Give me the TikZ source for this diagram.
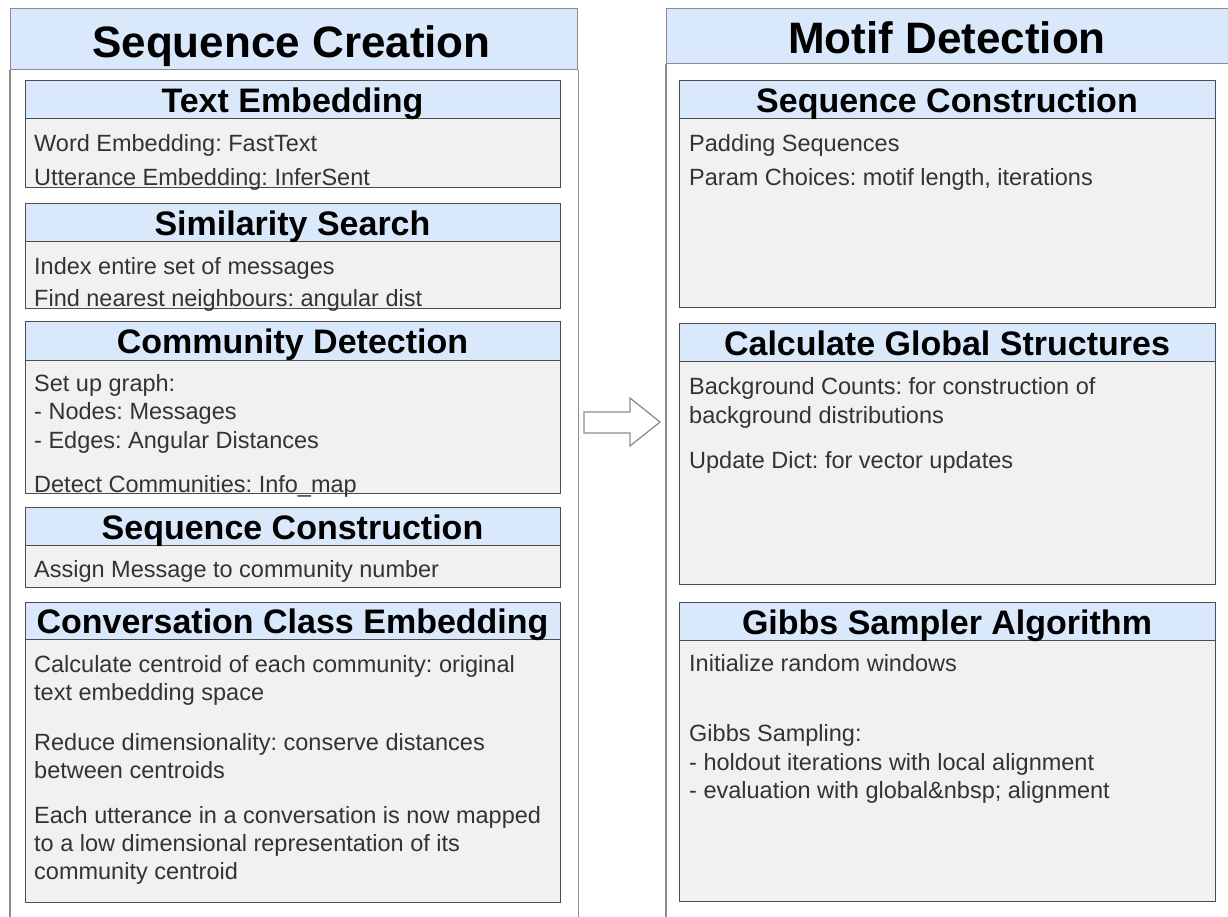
\documentclass[tikz,border=0pt]{standalone}
\usepackage{fontspec}
\setmainfont{Liberation Sans}
\usepackage{xcolor}
\definecolor{headblue}{HTML}{DAE8FC}
\definecolor{bodygrey}{HTML}{F1F1F1}
\definecolor{framegrey}{HTML}{4D4D4D}
\definecolor{panelgrey}{HTML}{8C8C8C}
\definecolor{textgrey}{HTML}{333333}
\frenchspacing

\begin{document}
\begin{tikzpicture}[x=1pt,y=-1pt,
    panelhead/.style={draw=panelgrey, line width=1.2pt, fill=headblue, anchor=north west, inner sep=0pt},
    panelline/.style={draw=panelgrey, line width=1.2pt},
    boxhead/.style={draw=framegrey, line width=1.4pt, fill=headblue, anchor=north west, inner sep=0pt, minimum height=38pt},
    boxbody/.style={draw=framegrey, line width=1.4pt, fill=bodygrey, anchor=north west, inner sep=0pt},
    bigtitle/.style={anchor=base, inner sep=0pt, font=\bfseries\fontsize{44}{50}\selectfont},
    boxtitle/.style={anchor=base, inner sep=0pt, font=\bfseries\fontsize{34}{40}\selectfont},
    txt/.style={anchor=base west, inner sep=0pt, text=textgrey, font=\fontsize{23.5}{28}\selectfont}]
  \useasboundingbox (0,0) rectangle (1228,916);

  % left panel
  \node[panelhead, minimum width=567pt, minimum height=61pt] (creation) at (10,8) {};
  \draw[panelline] (creation.south west) -- ++(0,860);
  \draw[panelline] (creation.south east) -- ++(0,860);
  \node[bigtitle] (creationtitle) at (291.5,57) {Sequence Creation};

  % right panel
  \node[panelhead, minimum width=575pt, minimum height=55pt] (motif) at (666,8) {};
  \draw[panelline] (motif.south west) -- ++(0,860);
  \node[bigtitle] (motiftitle) at (947,53) {Motif Detection};

  % step from one panel to the other
  \draw[panelline, fill=white] (584,412) -- (630,412) -- (630,398) -- (660,422)
    -- (630,446) -- (630,433) -- (584,433) -- cycle;

  % text embedding
  \node[boxbody, minimum width=535pt, minimum height=69pt] (tebody) at (25,118) {};
  \node[boxhead, minimum width=535pt] (tehead) at (25,80) {};
  \node[boxtitle] (tetitle) at (292.5,112) {Text Embedding};
  \node[txt] (te1) at (34,151) {Word Embedding: FastText};
  \node[txt] (te2) at (34,185) {Utterance Embedding: InferSent};

  % similarity search
  \node[boxbody, minimum width=535pt, minimum height=67pt] (ssbody) at (25,241) {};
  \node[boxhead, minimum width=535pt] (sshead) at (25,203) {};
  \node[boxtitle] (sstitle) at (292.5,235) {Similarity Search};
  \node[txt] (ss1) at (34,274) {Index entire set of messages};
  \node[txt] (ss2) at (34,306) {Find nearest neighbours: angular dist};

  % community detection
  \node[boxbody, minimum width=535pt, minimum height=133pt] (cdbody) at (25,360) {};
  \node[boxhead, minimum width=535pt, minimum height=39pt] (cdhead) at (25,321) {};
  \node[boxtitle] (cdtitle) at (292.5,353) {Community Detection};
  \node[txt] (cd1) at (34,391) {Set up graph:};
  \node[txt] (cd2) at (34,419) {- Nodes: Messages};
  \node[txt] (cd3) at (34,448) {- Edges: Angular Distances};
  \node[txt] (cd4) at (34,492) {Detect Communities: Info\_map};

  % sequence construction (left)
  \node[boxbody, minimum width=535pt, minimum height=42pt] (scbody) at (25,545) {};
  \node[boxhead, minimum width=535pt] (schead) at (25,507) {};
  \node[boxtitle] (sctitle) at (292.5,539) {Sequence Construction};
  \node[txt] (sc1) at (34,577) {Assign Message to community number};

  % conversation class embedding
  \node[boxbody, minimum width=535pt, minimum height=263pt] (ccbody) at (25,639) {};
  \node[boxhead, minimum width=535pt, minimum height=37pt] (cchead) at (25,602) {};
  \node[boxtitle] (cctitle) at (292.5,633) {Conversation Class Embedding};
  \node[txt] (cc1) at (34,672) {Calculate centroid of each community: original};
  \node[txt] (cc2) at (34,700) {text embedding space};
  \node[txt] (cc3) at (34,750) {Reduce dimensionality: conserve distances};
  \node[txt] (cc4) at (34,778) {between centroids};
  \node[txt] (cc5) at (34,823) {Each utterance in a conversation is now mapped};
  \node[txt] (cc6) at (34,851) {to a low dimensional representation of its};
  \node[txt] (cc7) at (34,879) {community centroid};

  % sequence construction (right)
  \node[boxbody, minimum width=536pt, minimum height=189pt] (mscbody) at (679,118) {};
  \node[boxhead, minimum width=536pt] (mschead) at (679,80) {};
  \node[boxtitle] (msctitle) at (947,112) {Sequence Construction};
  \node[txt] (msc1) at (689,151) {Padding Sequences};
  \node[txt] (msc2) at (689,185) {Param Choices: motif length, iterations};

  % global structures
  \node[boxbody, minimum width=536pt, minimum height=223pt] (gsbody) at (679,361) {};
  \node[boxhead, minimum width=536pt] (gshead) at (679,323) {};
  \node[boxtitle] (gstitle) at (947,355) {Calculate Global Structures};
  \node[txt] (gs1) at (689,394) {Background Counts: for construction of};
  \node[txt] (gs2) at (689,423) {background distributions};
  \node[txt] (gs3) at (689,468) {Update Dict: for vector updates};

  % gibbs sampler
  \node[boxbody, minimum width=536pt, minimum height=261pt] (gibody) at (679,640) {};
  \node[boxhead, minimum width=536pt] (gihead) at (679,602) {};
  \node[boxtitle] (gititle) at (947,634) {Gibbs Sampler Algorithm};
  \node[txt] (gi1) at (689,671) {Initialize random windows};
  \node[txt] (gi2) at (689,741) {Gibbs Sampling:};
  \node[txt] (gi3) at (689,770) {- holdout iterations with local alignment};
  \node[txt] (gi4) at (689,798) {- evaluation with global\&nbsp; alignment};
\end{tikzpicture}
\end{document}
